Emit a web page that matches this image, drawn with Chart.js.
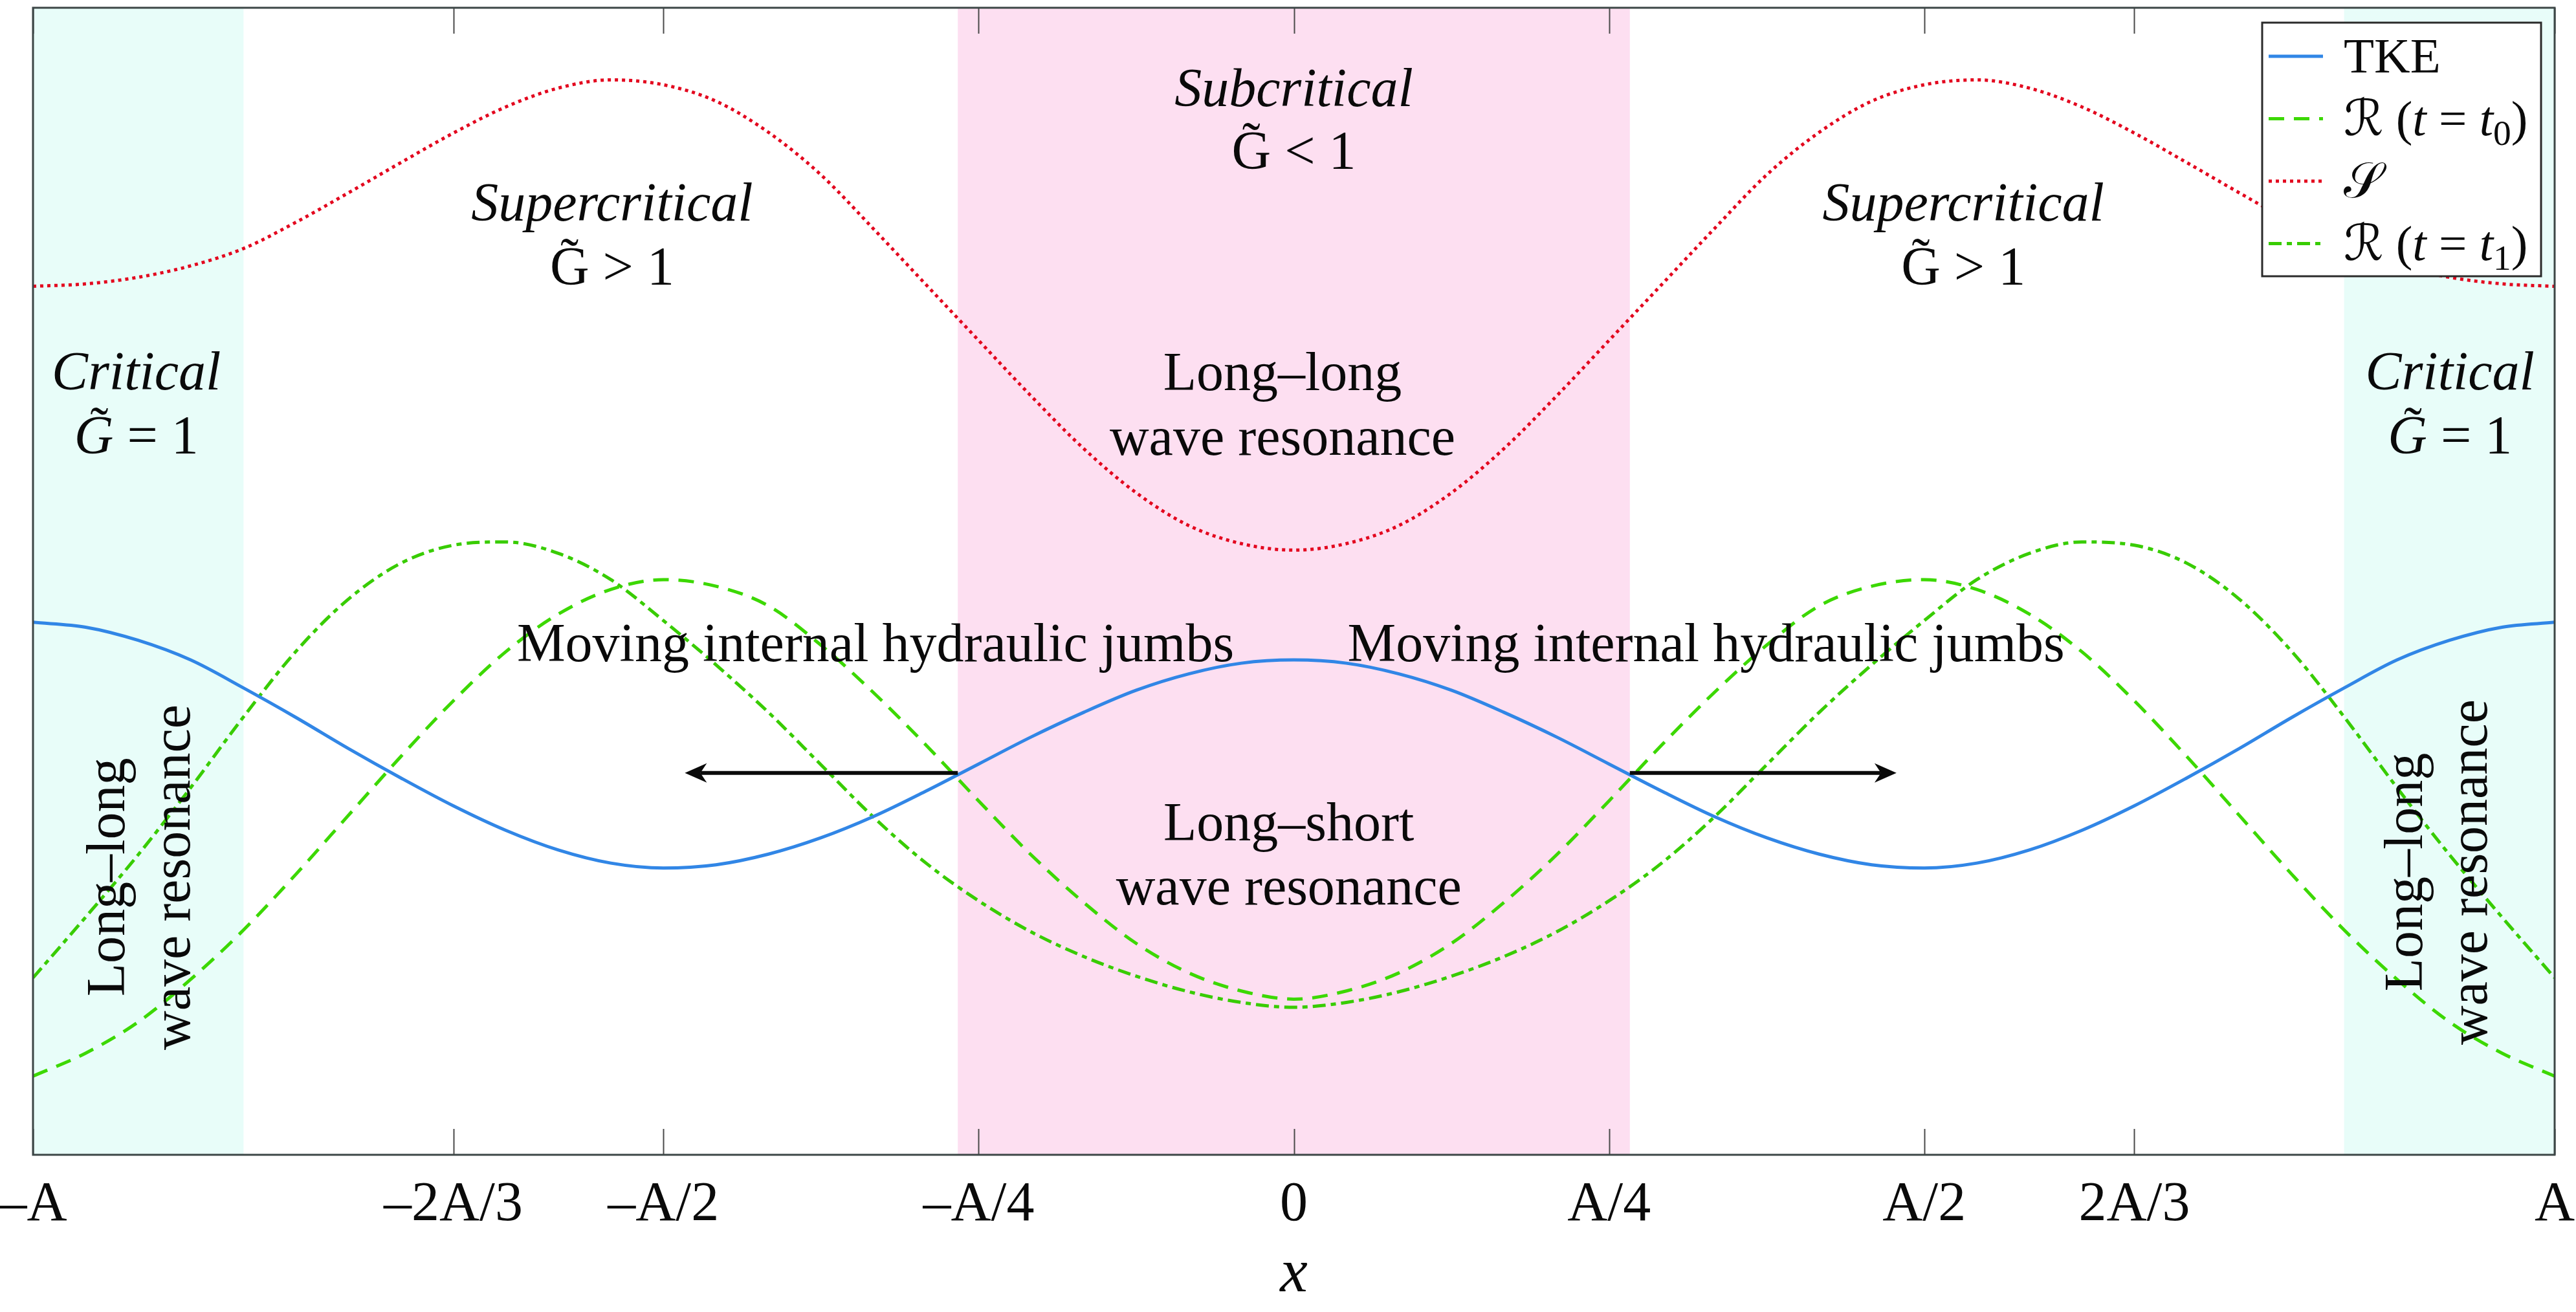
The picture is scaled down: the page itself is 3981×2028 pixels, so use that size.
<!DOCTYPE html>
<html>
<head>
<meta charset="utf-8">
<script src="https://cdn.jsdelivr.net/npm/chart.js@4.4.1/dist/chart.umd.min.js"></script>
<style>
  html, body { margin: 0; padding: 0; background: #ffffff; }
  #wrap { width: 3981px; height: 2028px; position: relative; }
</style>
</head>
<body>
<div id="wrap"><canvas id="c"></canvas></div>
<script>
// ---------------- data ----------------
const xValues = [-1, -0.9583, -0.9167, -0.875, -0.8333, -0.7917, -0.75, -0.7083, -0.6667, -0.625, -0.5833, -0.5417,
  -0.5, -0.4583, -0.4167, -0.375, -0.3333, -0.2917, -0.25, -0.2083, -0.1667, -0.125, -0.0833, -0.0417,
  0, 0.0417, 0.0833, 0.125, 0.1667, 0.2083, 0.25, 0.2917, 0.3333, 0.375, 0.4167, 0.4583,
  0.5, 0.5417, 0.5833, 0.625, 0.6667, 0.7083, 0.75, 0.7917, 0.8333, 0.875, 0.9167, 0.9583, 1];

const tkeValues = [325, 322, 314, 302, 285, 267, 248, 230, 213, 198, 186, 178,
  175, 177, 183.5, 193.5, 206.5, 222, 238.5, 255, 270, 283.5, 293.5, 300,
  302, 300, 293.5, 283.5, 270, 255, 238.5, 222, 206.5, 193.5, 183.5, 177,
  175, 178, 186, 198, 213, 230, 248, 267, 285, 302, 314, 322, 325];

const rT0Values = [48, 62, 81, 107, 137, 171, 207, 243, 277, 307, 330, 345,
  351, 347, 335, 311, 282, 250, 216, 183, 154, 129, 111, 100,
  95, 100, 111, 129, 154, 183, 216, 250, 282, 311, 335, 347,
  351, 345, 330, 307, 277, 243, 207, 171, 137, 107, 81, 62, 48];

const sValues = [530, 531.5, 535.5, 542.5, 553, 569, 587, 605.5, 623.5, 639.5, 651, 656,
  653, 643, 624, 598, 565, 531, 497, 463, 431, 404, 384, 373,
  369, 373, 384, 404, 431, 463, 497, 531, 565, 598, 624, 643,
  653, 656, 651, 639.5, 623.5, 605.5, 587, 569, 553, 542.5, 535.5, 531.5, 530];

const rT1Values = [108, 145, 183, 224, 267, 307, 339, 361, 372, 374, 367, 351,
  326, 299, 270, 238, 206, 178, 155, 136, 121, 109, 99.5, 93,
  90, 93, 99.5, 109, 121, 136, 155, 178, 206, 238, 270, 299,
  326, 351, 367, 374, 372, 361, 339, 307, 267, 224, 183, 145, 108];

const xTickValues = [-1, -2/3, -1/2, -1/4, 0, 1/4, 1/2, 2/3, 1];
const xTickLabels = ['\u2013A', '\u20132A/3', '\u2013A/2', '\u2013A/4', '0', 'A/4', 'A/2', '2A/3', 'A'];
const seriesLabels = ['TKE', '\u211B (t = t0)', '\uD835\uDCAE', '\u211B (t = t1)'];

// region bands (x in units of A)
const bandEdges = [[-1, -0.833], [-0.2665, 0.2665], [0.833, 1]];
// moving jump arrows: [from, to] in x, at level arrowLevel
const arrowSpans = [[-0.2665, -0.483], [0.2665, 0.478]];
const arrowLevel = 233;

// ---------------- styling ----------------
const SERIF = '"Liberation Serif", "DejaVu Serif", serif';
const SCRIPT = '"DejaVu Serif", "DejaVu Sans", "Liberation Serif", serif';
const TXT = 84;
const bandColors = ['#E8FDF9', '#FDDFF1', '#E8FDF9'];

const annotations = [
  {x: 0, y: 640, parts: [{t: 'Subcritical', it: true}]},
  {x: 0, y: 601.7, parts: [{t: 'G', tilde: true}, {t: ' < 1'}]},
  {x: -0.5407, y: 570, parts: [{t: 'Supercritical', it: true}]},
  {x: -0.5407, y: 531, parts: [{t: 'G', tilde: true}, {t: ' > 1'}]},
  {x: 0.531, y: 570, parts: [{t: 'Supercritical', it: true}]},
  {x: 0.531, y: 531, parts: [{t: 'G', tilde: true}, {t: ' > 1'}]},
  {x: -0.918, y: 467, parts: [{t: 'Critical', it: true}]},
  {x: -0.918, y: 428, parts: [{t: 'G', it: true, tilde: true}, {t: ' = 1'}]},
  {x: 0.917, y: 467, parts: [{t: 'Critical', it: true}]},
  {x: 0.917, y: 428, parts: [{t: 'G', it: true, tilde: true}, {t: ' = 1'}]},
  {x: -0.009, y: 466.6, parts: [{t: 'Long\u2013long'}]},
  {x: -0.009, y: 427.2, parts: [{t: 'wave resonance'}]},
  {x: -0.3318, y: 301.2, parts: [{t: 'Moving internal hydraulic jumbs'}]},
  {x: 0.327, y: 301.2, parts: [{t: 'Moving internal hydraulic jumbs'}]},
  {x: -0.004, y: 191.9, parts: [{t: 'Long\u2013short'}]},
  {x: -0.004, y: 152.6, parts: [{t: 'wave resonance'}]},
  {x: -0.9276, y: 169.4, rot: true, parts: [{t: 'Long\u2013long'}]},
  {x: -0.8758, y: 169.4, rot: true, parts: [{t: 'wave resonance'}]},
  {x: 0.8948, y: 172.5, rot: true, parts: [{t: 'Long\u2013long'}]},
  {x: 0.946, y: 172.5, rot: true, parts: [{t: 'wave resonance'}]}
];

const legendParts = [
  [{t: 'TKE'}],
  [{t: '\u211B', script: true}, {t: ' ('}, {t: 't', it: true}, {t: ' = '}, {t: 't', it: true}, {t: '0', sub: true}, {t: ')'}],
  [{t: '\uD835\uDCAE', script: true}],
  [{t: '\u211B', script: true}, {t: ' ('}, {t: 't', it: true}, {t: ' = '}, {t: 't', it: true}, {t: '1', sub: true}, {t: ')'}]
];

function pts(ys) { return xValues.map((x, i) => ({x: x, y: ys[i]})); }

function partFont(p, size) {
  const s = p.sub ? size * 0.72 : size;
  return (p.it ? 'italic ' : '') + s + 'px ' + (p.script ? SCRIPT : SERIF);
}

function drawRich(ctx, parts, cx, by, size, align) {
  ctx.textAlign = 'left';
  ctx.textBaseline = 'alphabetic';
  let w = 0;
  const widths = parts.map(p => { ctx.font = partFont(p, size); const m = ctx.measureText(p.t).width; w += m; return m; });
  let x = align === 'left' ? cx : cx - w / 2;
  parts.forEach((p, i) => {
    ctx.font = partFont(p, size);
    const y = p.sub ? by + size * 0.2 : by;
    ctx.fillText(p.t, x, y);
    if (p.tilde) {
      ctx.font = size + 'px ' + SERIF;
      const tw = ctx.measureText('\u02DC').width;
      ctx.fillText('\u02DC', x + widths[i] / 2 - tw / 2 + (p.it ? size * 0.1 : 0), by - size * 0.17);
    }
    x += widths[i];
  });
}

const bandsPlugin = {
  id: 'bands',
  beforeDatasetsDraw(chart) {
    const {ctx, chartArea: a, scales: {x}} = chart;
    ctx.save();
    bandEdges.forEach((b, i) => {
      const x0 = x.getPixelForValue(b[0]), x1 = x.getPixelForValue(b[1]);
      ctx.fillStyle = bandColors[i];
      ctx.fillRect(x0, a.top, x1 - x0, a.bottom - a.top);
    });
    ctx.restore();
  }
};

const notesPlugin = {
  id: 'notes',
  afterDatasetsDraw(chart) {
    const {ctx, scales: {x, y}} = chart;
    ctx.save();
    // arrows
    arrowSpans.forEach(s => {
      const x0 = x.getPixelForValue(s[0]), x1 = x.getPixelForValue(s[1]);
      const py = y.getPixelForValue(arrowLevel);
      const dir = Math.sign(x1 - x0);
      const headL = 34, headW = 15, notch = 24;
      ctx.strokeStyle = '#0a0a0a';
      ctx.lineWidth = 6;
      ctx.beginPath();
      ctx.moveTo(x0, py);
      ctx.lineTo(x1 - dir * notch, py);
      ctx.stroke();
      ctx.fillStyle = '#0a0a0a';
      ctx.beginPath();
      ctx.moveTo(x1, py);
      ctx.lineTo(x1 - dir * headL, py - headW);
      ctx.lineTo(x1 - dir * notch, py);
      ctx.lineTo(x1 - dir * headL, py + headW);
      ctx.closePath();
      ctx.fill();
    });
    // text notes
    ctx.fillStyle = '#0a0a0a';
    annotations.forEach(an => {
      const px = x.getPixelForValue(an.x), py = y.getPixelForValue(an.y);
      if (an.rot) {
        ctx.save();
        ctx.translate(px, py);
        ctx.rotate(-Math.PI / 2);
        drawRich(ctx, an.parts, 0, 0, TXT, 'center');
        ctx.restore();
      } else {
        drawRich(ctx, an.parts, px, py, TXT, 'center');
      }
    });
    ctx.restore();
  },
  afterDraw(chart) {
    const {ctx, chartArea: a, scales: {x}} = chart;
    ctx.save();
    // ticks (inward, top and bottom)
    ctx.strokeStyle = '#4a4a4a';
    ctx.lineWidth = 2;
    xTickValues.forEach(v => {
      const px = Math.round(x.getPixelForValue(v)) + 0.5;
      ctx.beginPath();
      ctx.moveTo(px, a.bottom); ctx.lineTo(px, a.bottom - 40);
      ctx.moveTo(px, a.top); ctx.lineTo(px, a.top + 40);
      ctx.stroke();
    });
    // frame
    ctx.strokeStyle = '#3c4646';
    ctx.lineWidth = 3;
    ctx.strokeRect(a.left, a.top, a.right - a.left, a.bottom - a.top);
    // legend
    const bw = 431, bh = 392;
    const bx = a.right - 21 - bw, by = a.top + 23;
    ctx.fillStyle = '#ffffff';
    ctx.fillRect(bx, by, bw, bh);
    ctx.strokeStyle = '#2a2a2a';
    ctx.lineWidth = 3;
    ctx.strokeRect(bx, by, bw, bh);
    chart.data.datasets.forEach((ds, i) => {
      const cy = by + 52 + i * 96.5;
      ctx.strokeStyle = ds.borderColor;
      ctx.lineWidth = ds.borderWidth;
      ctx.setLineDash(ds.borderDash || []);
      ctx.beginPath();
      ctx.moveTo(bx + 10, cy);
      ctx.lineTo(bx + 94, cy);
      ctx.stroke();
      ctx.setLineDash([]);
      ctx.fillStyle = '#0a0a0a';
      drawRich(ctx, legendParts[i], bx + 126, cy + 25, 77, 'left');
    });
    ctx.restore();
  }
};

const ctx = document.getElementById('c').getContext('2d');
new Chart(ctx, {
  type: 'scatter',
  data: {
    datasets: [
      {label: seriesLabels[0], data: pts(tkeValues), borderColor: '#3186E6', borderWidth: 5, borderDash: []},
      {label: seriesLabels[1], data: pts(rT0Values), borderColor: '#3CD800', borderWidth: 5, borderDash: [24, 15]},
      {label: seriesLabels[2], data: pts(sValues), borderColor: '#E3061E', borderWidth: 5, borderDash: [5, 6]},
      {label: seriesLabels[3], data: pts(rT1Values), borderColor: '#38CC00', borderWidth: 5, borderDash: [20, 8, 8, 8]}
    ].map(d => Object.assign(d, {showLine: true, pointRadius: 0, pointHoverRadius: 0, fill: false, cubicInterpolationMode: 'monotone'}))
  },
  options: {
    responsive: true,
    maintainAspectRatio: false,
    devicePixelRatio: 1,
    animation: false,
    events: [],
    layout: {padding: {left: 51, right: 33, top: 12, bottom: 0}},
    plugins: {legend: {display: false}, tooltip: {enabled: false}, title: {display: false}},
    scales: {
      x: {
        type: 'linear', min: -1, max: 1,
        grid: {display: false, drawTicks: false},
        border: {display: false},
        afterBuildTicks: axis => { axis.ticks = xTickValues.map(v => ({value: v})); },
        afterFit: axis => { axis.height = 243; axis.paddingLeft = 0; axis.paddingRight = 0; },
        ticks: {
          autoSkip: false, maxRotation: 0, minRotation: 0, padding: 27, color: '#0a0a0a',
          font: {family: SERIF, size: 86},
          callback: (v, i) => xTickLabels[i]
        },
        title: {display: true, text: 'x', color: '#0a0a0a', font: {family: SERIF, size: 96, style: 'italic'}, padding: {top: 2, bottom: 0}}
      },
      y: {type: 'linear', min: 0, max: 700, display: false}
    }
  },
  plugins: [bandsPlugin, notesPlugin]
});
</script>
</body>
</html>
